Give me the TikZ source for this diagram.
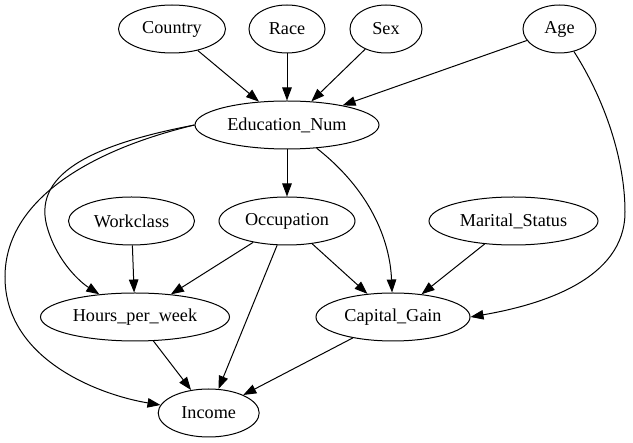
\documentclass[tikz,border=0pt]{standalone}
\usepackage{fontspec}
\setmainfont{Liberation Serif}
\usetikzlibrary{shapes.geometric,arrows.meta}

\begin{document}
\begin{tikzpicture}[x=1pt,y=-1pt,
	var/.style={shape=ellipse,draw=black,line width=1pt,minimum height=48pt,inner sep=0pt,
		font=\fontsize{18.2pt}{22pt}\selectfont},
	link/.style={-{Triangle[length=13pt,width=9.5pt]},line width=1pt}]
	
	\useasboundingbox (0,0) rectangle (633,443);
	
	\node[var,minimum width=107pt] (country)   at (172, 29)   {Country};
	\node[var,minimum width=76pt]  (race)      at (287, 29)   {Race};
	\node[var,minimum width=72pt]  (sex)       at (386, 29)   {Sex};
	\node[var,minimum width=73pt]  (age)       at (559.5, 29) {Age};
	\node[var,minimum width=184pt] (edu)       at (287, 125)  {Education\_Num};
	\node[var,minimum width=126pt] (workclass) at (131.5, 221){Workclass};
	\node[var,minimum width=136pt] (occ)       at (287, 221)  {Occupation};
	\node[var,minimum width=169pt] (marital)   at (513.5, 221){Marital\_Status};
	\node[var,minimum width=189pt] (hours)     at (135, 317)  {Hours\_per\_week};
	\node[var,minimum width=154pt] (gain)      at (393, 317)  {Capital\_Gain};
	\node[var,minimum width=101pt] (income)    at (208.7, 413){Income};
	
	\path[link] (country)   edge (edu);
	\path[link] (race)      edge (edu);
	\path[link] (sex)       edge (edu);
	\path[link] (age)       edge (edu);
	\path[link] (edu)       edge (occ);
	\path[link] (workclass) edge (hours);
	\path[link] (occ)       edge (hours);
	\path[link] (occ)       edge (income);
	\path[link] (occ)       edge (gain);
	\path[link] (marital)   edge (gain);
	\path[link] (hours)     edge (income);
	\path[link] (gain)      edge (income);
	
	\draw[link] (edu.west) .. controls (90,145) and (30,175) .. (48,230)
		.. controls (58,262) and (80,282) .. (hours);
	\draw[link] (edu.west) .. controls (90,150) and (5,200) .. (5,277)
		.. controls (5,360) and (100,395) .. (income);
	\draw[link] (edu) .. controls (370,190) and (390,240) .. (gain);
	\draw[link] (age) .. controls (605,100) and (625,160) .. (625,212)
		.. controls (625,280) and (540,305) .. (gain.east);
	
\end{tikzpicture}
\end{document}
